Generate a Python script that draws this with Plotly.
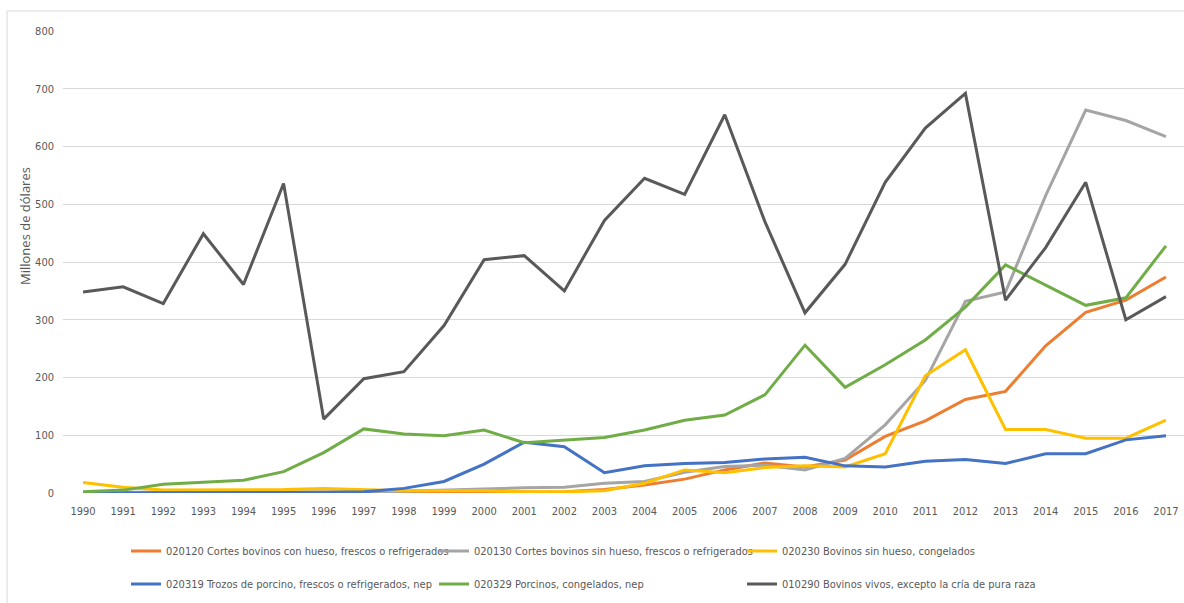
import plotly.graph_objects as go

years = list(range(1990, 2018))

s020120 = [1, 1, 1, 1, 1, 1, 1, 1, 1, 1, 1, 2, 2, 6, 14, 24, 40, 52, 45, 57,
           98, 125, 162, 176, 255, 313, 334, 374]
s020130 = [1, 1, 1, 1, 1, 2, 2, 2, 3, 5, 8, 9, 10, 17, 20, 36, 46, 48, 40, 60,
           118, 195, 332, 348, 515, 663, 645, 617]
s020230 = [18, 10, 5, 5, 5, 6, 8, 6, 4, 4, 4, 2, 2, 4, 17, 40, 35, 44, 47, 45,
           68, 203, 248, 110, 110, 95, 95, 126]
s020319 = [0, 0, 0, 0, 0, 1, 1, 2, 8, 20, 50, 88, 80, 35, 47, 51, 53, 59, 62, 47,
           45, 55, 58, 51, 68, 68, 92, 99]
s020329 = [2, 5, 15, 18, 22, 37, 70, 111, 102, 99, 109, 87, 91, 96, 109, 126, 135, 170, 256, 183,
           222, 265, 322, 395, 360, 325, 338, 428]
s010290 = [348, 357, 328, 449, 361, 536, 128, 198, 210, 290, 404, 411, 350, 472, 545, 517, 655, 470, 312, 396,
           538, 632, 692, 334, 425, 538, 300, 340]

names = [
    "020120 Cortes bovinos con hueso, frescos o refrigerados",
    "020130 Cortes bovinos sin hueso, frescos o refrigerados",
    "020230 Bovinos sin hueso, congelados",
    "020319 Trozos de porcino, frescos o refrigerados, nep",
    "020329 Porcinos, congelados, nep",
    "010290 Bovinos vivos, excepto la cría de pura raza",
]
series = [s020120, s020130, s020230, s020319, s020329, s010290]
colors = ["#ED7D31", "#A5A5A5", "#FFC000", "#4472C4", "#70AD47", "#595959"]
legends = ["legend", "legend", "legend", "legend2", "legend2", "legend2"]
y_ticks = list(range(0, 801, 100))

FONT = "Liberation Sans Narrow, DejaVu Sans Condensed, Arial Narrow, sans-serif"

fig = go.Figure()
for name, vals, col, lg in zip(names, series, colors, legends):
    fig.add_trace(go.Scatter(
        x=years, y=vals, mode="lines", name=name,
        line=dict(color=col, width=3), legend=lg,
    ))

legend_common = dict(
    orientation="h", xanchor="left", yanchor="middle",
    x=(126 - 63) / 1121, entrywidth=263, entrywidthmode="pixels",
    font=dict(family=FONT, size=11, color="#595959"),
    bgcolor="rgba(0,0,0,0)", traceorder="normal",
)

fig.update_layout(
    width=1184, height=603,
    margin=dict(l=63, r=0, t=31, b=110),
    paper_bgcolor="white", plot_bgcolor="white",
    showlegend=True,
    legend=dict(y=(493 - 551) / 462, **legend_common),
    legend2=dict(y=(493 - 584) / 462, **legend_common),
    xaxis=dict(
        range=[1989.5, 2017.45], tickmode="array", tickvals=years,
        ticktext=[str(y) for y in years], showgrid=False, zeroline=False,
        showline=False, ticks="", ticklabelstandoff=10,
        tickfont=dict(family=FONT, size=11, color="#595959"),
    ),
    yaxis=dict(
        range=[0, 800], tickvals=y_ticks, showgrid=True, gridcolor="#D9D9D9",
        gridwidth=1, zeroline=False, showline=False, ticks="",
        ticklabelstandoff=8,
        tickfont=dict(family=FONT, size=11, color="#595959"),
    ),
    annotations=[dict(
        text="Millones de dólares", textangle=-90, showarrow=False,
        xref="paper", yref="paper", x=(25 - 63) / 1121, y=(493 - 226) / 462,
        xanchor="center", yanchor="middle",
        font=dict(family="Open Sans, sans-serif", size=13, color="#595959"),
    )],
    shapes=[dict(
        type="rect", xref="paper", yref="paper", layer="below",
        x0=(7 - 63) / 1121, x1=1.05, y0=-0.4, y1=(493 - 11) / 462,
        line=dict(color="#D9D9D9", width=1), fillcolor="rgba(0,0,0,0)",
    )],
)

fig.write_html("out.html")
